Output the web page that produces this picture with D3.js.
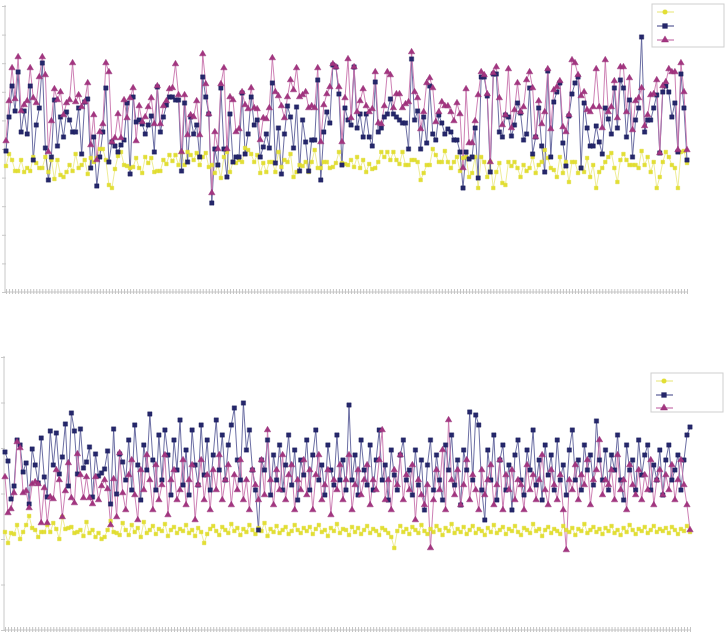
<!DOCTYPE html>
<html>
<head>
<meta charset="utf-8">
<script src="https://cdn.jsdelivr.net/npm/d3@7"></script>
<style>
  html, body { margin: 0; padding: 0; background: #fff; }
  svg { display: block; }
</style>
</head>
<body>
<svg id="chart" width="728" height="634"></svg>
<script>
// ---------- DATA (top panel) ----------
const topYellow = [126,138,132,121,121,132,120,124,121,135,129,124,124,135,120,132,113,132,117,115,
120,127,121,138,124,127,132,118,134,130,134,143,143,132,107,104,123,136,140,127,
126,124,125,134,124,119,135,129,134,120,121,121,132,128,137,131,137,127,140,127,
140,137,132,139,127,135,139,125,127,119,127,114,135,140,120,130,129,132,130,144,
142,138,130,137,119,129,120,130,130,120,140,125,132,130,138,115,120,127,126,130,
120,130,142,124,124,130,130,124,125,129,140,129,128,127,132,125,135,124,132,120,
128,123,124,130,140,135,140,132,140,132,128,140,127,127,132,132,130,112,119,127,
127,143,137,130,130,141,130,124,130,135,121,134,135,115,119,135,104,135,130,115,
130,104,120,129,109,107,130,126,130,124,115,127,121,124,135,119,127,130,142,134,
124,122,115,135,119,130,110,130,130,119,124,120,134,115,127,104,120,124,130,135,
139,124,110,132,138,132,127,127,127,124,141,127,135,120,130,104,115,130,140,135,
127,124,104,140,141,129];
const topBlue = [141,175,206,181,220,160,181,158,206,132,167,184,229,144,112,135,192,146,175,155,
180,172,160,160,184,138,190,193,124,155,106,135,160,204,130,150,146,140,147,152,
189,118,195,170,172,168,158,167,176,140,205,160,175,187,195,195,192,192,121,189,
130,175,158,167,135,215,195,178,89,143,127,204,143,115,178,130,135,135,199,138,
158,195,167,172,135,145,158,144,209,129,164,118,158,186,175,144,185,121,172,150,
121,152,152,212,112,160,180,169,227,225,198,127,184,172,167,225,164,178,155,178,
155,146,210,160,164,175,178,193,178,175,172,169,169,143,233,172,181,143,175,149,
206,158,152,177,169,158,163,160,152,152,140,104,140,133,135,164,114,215,215,196,
120,218,218,160,155,177,175,156,167,189,179,152,158,204,138,155,184,146,120,221,
135,190,200,209,149,126,176,198,209,215,124,189,164,146,146,166,150,138,184,173,
158,204,164,212,204,155,192,135,172,184,255,160,172,172,184,197,139,200,206,200,
175,189,140,218,184,132];
const topPurple = [151,191,224,193,235,181,187,191,224,194,189,215,235,217,140,171,203,192,200,177,
189,192,229,190,197,185,190,209,147,177,132,160,168,229,220,150,154,178,154,192,
174,194,204,151,186,170,175,185,194,168,206,168,186,191,203,204,228,197,140,197,
157,177,175,191,157,238,208,178,99,160,143,208,224,143,195,192,160,163,200,187,
183,204,184,183,152,174,173,184,234,200,196,186,174,195,212,202,224,195,197,200,
184,186,184,224,150,187,198,205,228,225,205,150,194,233,174,225,180,191,203,186,
180,183,220,169,168,186,220,217,184,198,198,184,188,190,240,200,194,163,180,209,
214,204,170,180,190,186,186,180,171,189,178,124,203,149,149,171,197,220,217,198,
130,219,225,194,167,177,223,164,182,209,180,185,212,220,204,155,191,168,180,223,
163,202,205,211,165,160,177,232,229,217,196,200,182,180,185,223,185,164,232,180,
185,211,174,225,225,180,214,162,191,194,204,166,177,197,198,212,139,206,210,223,
220,220,142,229,200,142];

// ---------- DATA (bottom panel) ----------
const botYellow = [98,87,97,96,105,91,98,105,114,102,100,93,98,98,105,98,107,101,91,113,
101,102,103,97,98,100,94,108,97,100,93,97,91,93,100,109,98,97,95,107,
100,95,105,98,102,93,108,97,100,104,96,101,99,106,94,100,103,97,101,99,
105,97,100,94,102,98,87,96,101,104,99,95,103,100,97,106,99,102,95,101,
98,105,100,96,102,99,107,94,101,98,104,97,100,103,96,99,105,100,97,102,
99,103,96,101,105,98,100,94,102,99,106,97,101,100,95,103,98,102,96,100,
104,97,101,99,95,102,100,97,93,82,99,104,98,101,96,103,100,97,105,99,
96,101,98,104,100,95,102,99,106,97,101,98,103,96,100,104,97,101,99,95,
102,98,105,97,100,103,96,101,99,104,98,95,102,100,97,106,99,101,94,100,
103,97,101,99,96,104,100,98,102,95,101,99,106,97,100,103,98,101,96,102,
99,104,97,100,95,102,98,105,100,96,101,99,103,97,100,104,98,101,99,102,
97,103,100,96,101,99,104,98];
const botBlue = [178,169,131,144,190,185,158,167,126,181,165,147,192,153,133,199,165,197,156,173,
206,144,217,199,156,201,162,168,183,133,176,154,157,161,179,126,201,136,176,168,
150,190,140,205,165,130,185,160,216,170,140,195,150,200,175,135,190,160,210,145,
180,135,200,165,145,205,155,190,140,175,210,160,195,150,185,205,222,170,150,227,
180,200,160,140,100,170,160,190,135,175,150,185,140,165,195,145,180,130,170,155,
190,140,175,200,150,165,135,185,160,145,195,150,170,140,225,150,175,135,190,160,
145,185,140,170,200,150,165,130,180,155,140,175,190,150,160,135,180,145,170,120,
165,190,140,175,150,130,185,160,195,145,170,125,180,160,218,150,215,205,140,110,
180,150,195,130,170,185,140,165,120,175,190,150,135,180,160,200,145,170,130,185,
155,175,140,190,150,165,135,180,200,150,170,140,185,160,175,145,209,170,150,180,
140,175,160,195,150,130,185,160,170,140,190,155,175,185,140,165,150,180,135,170,
185,150,160,175,140,170,195,203];
const botPurple = [153,117,121,137,188,182,137,139,122,146,148,146,107,142,107,133,131,160,150,113,
139,167,132,127,176,155,132,153,132,126,153,130,144,150,141,105,151,113,177,137,
120,155,170,135,110,160,140,175,150,120,165,130,145,175,115,150,160,130,140,170,
125,150,165,110,145,170,130,155,120,160,140,175,130,150,165,125,155,140,170,130,
150,120,160,145,130,170,135,200,150,125,160,140,175,130,155,165,120,150,140,170,
135,160,120,155,175,130,145,160,115,150,140,165,130,150,175,120,145,160,135,150,
165,125,150,140,170,200,130,150,120,160,145,175,130,155,140,165,110,150,135,125,
145,82,130,160,140,180,120,210,150,135,160,125,145,170,130,155,140,120,160,135,
150,165,125,145,170,120,155,140,160,130,150,145,120,165,140,155,130,150,175,140,
125,160,145,130,155,120,80,150,140,165,130,155,145,170,125,150,160,190,135,150,
145,160,130,175,140,150,120,165,145,135,160,130,155,140,170,125,150,160,135,155,
140,165,130,150,170,145,125,100];

const seriesNames = ["", "", ""];

// ---------- STYLE ----------
const styles = [
  { line: "#ecea8a", fill: "#e3df33", stroke: "#dcd830", shape: d3.symbolSquare, size: 13 },
  { line: "#5a5e98", fill: "#25276b", stroke: "#1d1f5a", shape: d3.symbolSquare, size: 19 },
  { line: "#c772ac", fill: "#a33580", stroke: "#902b72", shape: d3.symbolTriangle, size: 18 }
];

const svg = d3.select("#chart");
const axisColor = "#c8c8c8";

function drawPanel(cfg) {
  const g = svg.append("g");
  const n = cfg.data[0].length;
  const x = d3.scalePoint().domain(d3.range(n)).range([cfg.x0, cfg.x1]);
  const y = d3.scaleLinear().domain([0, cfg.ymax]).range([cfg.yb, cfg.yt]);

  // y axis
  const ya = g.append("g").attr("transform", `translate(${cfg.ax},0)`)
    .call(d3.axisLeft(y).tickValues(cfg.yticks).tickSize(3).tickFormat(""));
  ya.select(".domain").attr("stroke", axisColor).attr("d", `M0,${cfg.yb}V${cfg.yt - 1}`);
  ya.selectAll(".tick line").attr("stroke", axisColor).attr("x2", -3).attr("x1", 1);

  // x axis
  const xa = g.append("g").attr("transform", `translate(0,${cfg.yb})`)
    .call(d3.axisBottom(x).tickSizeInner(-3).tickSizeOuter(0).tickFormat(""));
  xa.select(".domain").attr("stroke", axisColor).attr("d", `M${cfg.ax},0H${cfg.axEnd}`);
  xa.selectAll(".tick line").attr("stroke", "#c4c4c4").attr("y1", 2);

  cfg.data.forEach((vals, si) => {
    const st = styles[si];
    const line = d3.line().x((d, i) => x(i)).y(d => y(d));
    g.append("path").datum(vals)
      .attr("fill", "none").attr("stroke", st.line).attr("stroke-width", 0.9)
      .attr("d", line);
  });
  cfg.data.forEach((vals, si) => {
    const st = styles[si];
    const sym = d3.symbol().type(st.shape).size(st.size);
    g.append("g").selectAll("path").data(vals).join("path")
      .attr("transform", (d, i) => `translate(${x(i)},${y(d)})`)
      .attr("d", sym())
      .attr("fill", st.fill).attr("stroke", st.stroke).attr("stroke-width", 0.4);
  });

  // legend
  const lg = g.append("g");
  lg.append("rect").attr("x", cfg.lx).attr("y", cfg.ly)
    .attr("width", cfg.lw).attr("height", cfg.lh)
    .attr("fill", "#fff").attr("stroke", "#cfcfcf").attr("stroke-width", 1);
  cfg.legY.forEach((ly, si) => {
    const st = styles[si];
    lg.append("line").attr("x1", cfg.lx + 5).attr("x2", cfg.lx + 22)
      .attr("y1", ly).attr("y2", ly).attr("stroke", st.line).attr("stroke-width", 1.2);
    lg.append("path").attr("transform", `translate(${cfg.lx + 13},${ly})`)
      .attr("d", d3.symbol().type(si === 0 ? d3.symbolCircle : st.shape).size(st.size + 4)())
      .attr("fill", st.fill).attr("stroke", st.stroke).attr("stroke-width", 0.4);
    lg.append("text").attr("x", cfg.lx + 28).attr("y", ly + 4)
      .attr("font-family", "Liberation Sans, Arial, sans-serif").attr("font-size", 10)
      .attr("fill", "#333").text(seriesNames[si]);
  });
}

drawPanel({
  data: [topYellow, topBlue, topPurple],
  x0: 6, x1: 687, ax: 5, axEnd: 688,
  yb: 292, yt: 6, ymax: 286,
  yticks: d3.range(0, 287, 28.6),
  lx: 652, ly: 4, lw: 72, lh: 43, legY: [12, 26, 40]
});

drawPanel({
  data: [botYellow, botBlue, botPurple],
  x0: 5, x1: 690, ax: 4, axEnd: 691,
  yb: 630, yt: 357, ymax: 273,
  yticks: d3.range(0, 274, 45.5),
  lx: 651, ly: 373, lw: 72, lh: 39, legY: [381, 395, 408]
});
</script>
</body>
</html>
